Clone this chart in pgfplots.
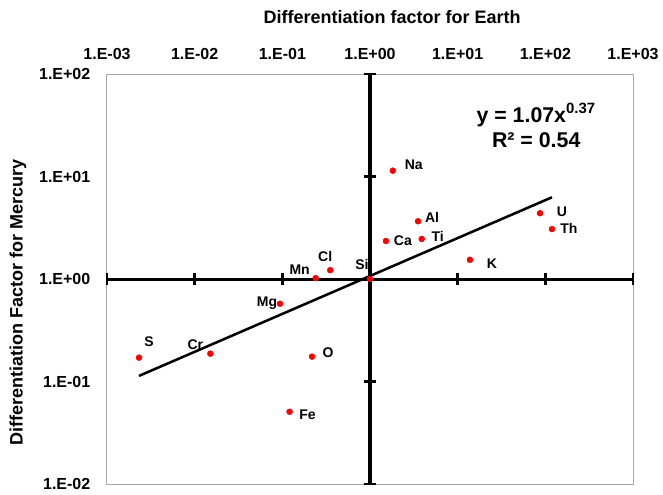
\documentclass[border=0pt]{standalone}
\usepackage{fontspec}
\setmainfont{Liberation Sans}
\usepackage{pgfplots}
\usepackage{pgfplotstable}
\pgfplotsset{compat=1.18}

% Differentiation factors: Earth (x), Mercury (y); label offsets dx, dy in pt
\pgfplotstableread{
x        y       label dx     dy
0.00232  0.171   S     7.5    12
0.0151   0.187   Cr    -11.25 6.75
0.094    0.574   Mg    -9.75  0.75
0.121    0.0507  Fe    13.5   -2.25
0.218    0.175   O     12     3
0.240    1.02    Mn    -12    6
0.352    1.22    Cl    -3.75  10.5
1.0      1.0     Si    -6     11.25
1.52     2.35    Ca    12.75  0
1.82     11.4    Na    15.75  4.5
3.53     3.66    Al    10.5   3
3.89     2.46    Ti    12     2.25
13.8     1.54    K     16.5   -3
86.9     4.38    U     16.5   1.5
119      3.07    Th    12.75  0.75
}\elements

\begin{document}
\begin{tikzpicture}
\useasboundingbox (-80.25pt,-7.5pt) rectangle (417pt,363pt);
\begin{axis}[
  xmode=log, ymode=log,
  scale only axis,
  width=394.5pt, height=307.5pt,
  xmin=1e-3, xmax=1e3, ymin=1e-2, ymax=1e2,
  axis line style={draw=black!35, line width=0.75pt},
  xtick={1e-3,1e-2,1e-1,1,1e1,1e2,1e3},
  xticklabels={1.E-03,1.E-02,1.E-01,1.E+00,1.E+01,1.E+02,1.E+03},
  ytick={1e-2,1e-1,1,1e1,1e2},
  yticklabels={1.E-02,1.E-01,1.E+00,1.E+01,1.E+02},
  xticklabel pos=right,
  xticklabel shift=7pt,
  yticklabel shift=9pt,
  major tick length=0pt,
  xminorticks=false, yminorticks=false,
  tick label style={font=\fontsize{12}{14}\selectfont\bfseries},
  clip=false,
]
% crossing axes through (1,1)
\draw[line width=2.25pt] (axis cs:1e-3,1) -- (axis cs:1e3,1);
\draw[line width=2.25pt] (axis cs:1,1e-2) -- (axis cs:1,1e2);
\pgfplotsinvokeforeach{1e-3,1e-2,1e-1,1,1e1,1e2,1e3}{
  \draw[line width=1.8pt] ([yshift=-4.5pt]axis cs:#1,1) -- ([yshift=4.5pt]axis cs:#1,1);
}
\pgfplotsinvokeforeach{1e-2,1e-1,1,1e1,1e2}{
  \draw[line width=1.8pt] ([xshift=-4.5pt]axis cs:1,#1) -- ([xshift=4.5pt]axis cs:1,#1);
}

% power-law trendline y = 1.07 x^0.37
\addplot[black, line width=1.9pt] coordinates {(0.00232,0.1135) (119,6.27)};

\addplot[only marks, mark=*, mark size=2.2pt, color=red,
  point meta=explicit symbolic,
  nodes near coords,
  visualization depends on={\thisrow{dx}\as\dx},
  visualization depends on={\thisrow{dy}\as\dy},
  every node near coord/.append style={anchor=center, text=black,
    xshift=\dx pt, yshift=\dy pt, inner sep=0pt,
    font=\fontsize{10.5}{12}\selectfont\bfseries}]
  table[x=x, y=y, meta=label] {\elements};

\node[align=center, font=\fontsize{16}{19}\selectfont\bfseries]
  at (rel axis cs:0.816,0.874) {y = 1.07x\textsuperscript{0.37}\\R² = 0.54};

\node[font=\fontsize{13.5}{16}\selectfont\bfseries]
  at (rel axis cs:0.542,1) [yshift=42.4pt] {Differentiation factor for Earth};
\node[xshift=-66.75pt, rotate=90, font=\fontsize{13.5}{16}\selectfont\bfseries]
  at (rel axis cs:0,0.443) {Differentiation Factor for Mercury};
\end{axis}
\end{tikzpicture}
\end{document}
